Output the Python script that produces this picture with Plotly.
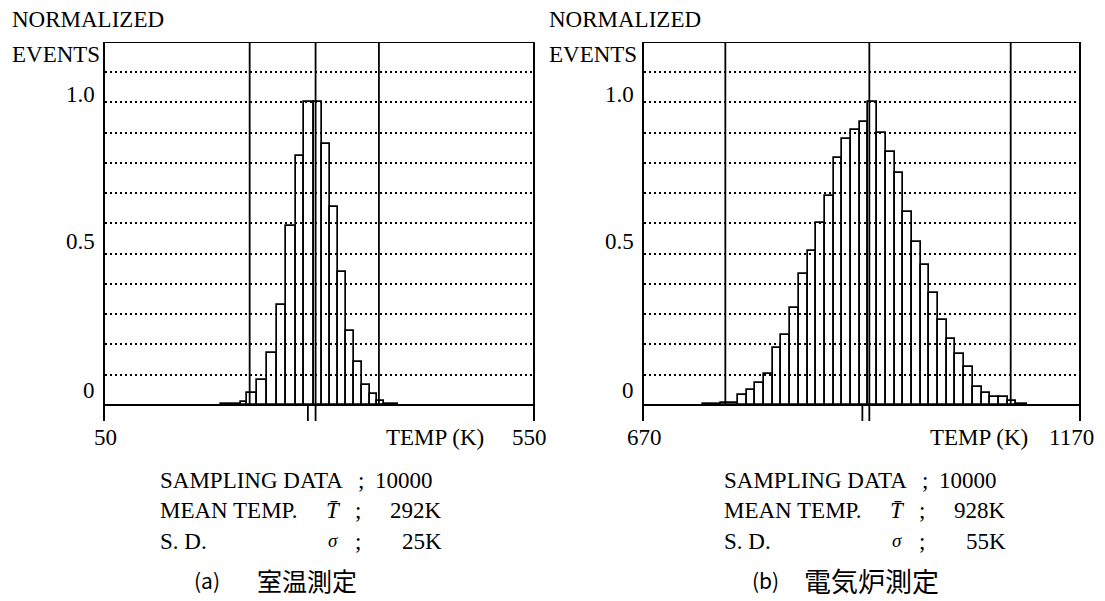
import plotly.graph_objects as go

W, H = 1105, 601
SERIF = "Liberation Serif"
CJK = "Noto Sans CJK JP"

# ---------------- data ----------------
left_bin_edges = [186, 209, 216, 227, 239.5, 251, 262, 273.5, 283, 294, 303, 313,
                  322.5, 331.5, 341, 350.5, 359.5, 367.5, 376, 392]
left_heights = [0.003, 0.009, 0.041, 0.084, 0.172, 0.331, 0.592, 0.822, 1.0, 1.0,
                0.864, 0.656, 0.441, 0.243, 0.143, 0.066, 0.036, 0.014, 0.004]

right_bin_edges = [738, 758, 778, 788, 798, 808, 818, 828, 838, 848, 858, 868, 878,
                   888, 898, 908, 918, 928, 938, 948, 958, 968, 978, 988, 998, 1008,
                   1018, 1028, 1038, 1048, 1058, 1068, 1078, 1088, 1098, 1110]
right_heights = [0.003, 0.006, 0.034, 0.05, 0.071, 0.104, 0.189, 0.232, 0.322, 0.433,
                 0.508, 0.6, 0.69, 0.818, 0.878, 0.908, 0.937, 1.0, 0.898, 0.837,
                 0.766, 0.637, 0.538, 0.463, 0.369, 0.282, 0.218, 0.169, 0.127, 0.06,
                 0.04, 0.028, 0.028, 0.012, 0.004]

left_range = [50, 550]
right_range = [670, 1170]
left_sigma_lines = [219, 296, 370]
right_sigma_lines = [763.5, 929, 1091.5]
left_mean_marks = [287, 296]
right_mean_marks = [921, 929]

sampling = ["10000", "10000"]
mean_temps = ["292K", "928K"]
sds = ["25K", "55K"]
captions = [("(a)", "室温測定"), ("(b)", "電気炉測定")]
y_tick_labels = ["1.0", "0.5", "0"]

# ---------------- figure ----------------
def px(x):
    return x / W


def py(y):
    return 1 - y / H


def bars(edges, heights, xa, ya):
    centers = [(a + b) / 2 for a, b in zip(edges[:-1], edges[1:])]
    widths = [b - a for a, b in zip(edges[:-1], edges[1:])]
    return go.Bar(x=centers, y=heights, width=widths, xaxis=xa, yaxis=ya,
                  marker=dict(color="rgba(0,0,0,0)", line=dict(color="black", width=1.7)),
                  showlegend=False, hoverinfo="skip")


fig = go.Figure()
fig.add_trace(bars(left_bin_edges, left_heights, "x", "y"))
fig.add_trace(bars(right_bin_edges, right_heights, "x2", "y2"))

Y_LO, Y_HI = -0.053, 1.2
ydom = [py(421), py(42)]
axis_common = dict(showticklabels=False, ticks="", zeroline=False)
fig.update_layout(
    width=W, height=H, margin=dict(l=0, r=0, t=0, b=0),
    paper_bgcolor="white", plot_bgcolor="white", bargap=0,
    xaxis=dict(domain=[px(105), px(533)], range=left_range, showgrid=False,
               showline=False, anchor="y", **axis_common),
    xaxis2=dict(domain=[px(644), px(1079)], range=right_range, showgrid=False,
                showline=False, anchor="y2", **axis_common),
    yaxis=dict(domain=ydom, range=[Y_LO, Y_HI], anchor="x", tick0=0, dtick=0.1,
               showgrid=True, gridcolor="black", gridwidth=1.8, griddash="2px,3px",
               showline=True, mirror=True, linecolor="black", linewidth=2,
               **axis_common),
    yaxis2=dict(domain=ydom, range=[Y_LO, Y_HI], anchor="x2", tick0=0, dtick=0.1,
                showgrid=True, gridcolor="black", gridwidth=1.8, griddash="2px,3px",
                showline=True, mirror=True, linecolor="black", linewidth=2,
                **axis_common),
)

shapes = []
for xr, yr, rng, sig, marks in [("x", "y", left_range, left_sigma_lines, left_mean_marks),
                                ("x2", "y2", right_range, right_sigma_lines, right_mean_marks)]:
    # top frame and baseline
    for yv in (Y_HI, 0):
        shapes.append(dict(type="line", xref=xr, yref=yr, x0=rng[0], x1=rng[1], y0=yv, y1=yv,
                           line=dict(color="black", width=2)))
    for xv in sig:
        shapes.append(dict(type="line", xref=xr, yref=yr, x0=xv, x1=xv, y0=0, y1=Y_HI,
                           line=dict(color="black", width=1.8)))
    for xv in marks:
        shapes.append(dict(type="line", xref=xr, yref=yr, x0=xv, x1=xv, y0=0, y1=Y_LO,
                           line=dict(color="black", width=1.8)))
fig.update_layout(shapes=shapes)


def ann(text, x, y, xanchor="left", size=23, family=SERIF):
    return dict(text=text, x=px(x), y=py(y), xref="paper", yref="paper",
                xanchor=xanchor, yanchor="middle", showarrow=False,
                font=dict(family=family, size=size, color="black"))


anns = []
for k, (x0, frame_l, frame_r, rng) in enumerate([(10, 105, 533, left_range),
                                                  (547, 644, 1079, right_range)]):
    anns.append(ann("NORMALIZED", x0, 20))
    anns.append(ann("EVENTS", x0, 54))
    for lab, yy in zip(y_tick_labels, [95, 242, 390]):
        anns.append(ann(lab, frame_l - 8, yy, xanchor="right"))
    anns.append(ann(str(rng[0]), frame_l, 437, xanchor="center"))
    anns.append(ann(str(rng[1]), frame_r - 4 - 4 * k, 437, xanchor="center"))
    anns.append(ann("TEMP (K)", frame_l + 330 + 5 * k, 437, xanchor="center"))

for k, bx in enumerate([158, 722]):
    anns.append(ann("SAMPLING DATA", bx, 480))
    anns.append(ann(";", bx + 203, 480, xanchor="center"))
    anns.append(ann(sampling[k], bx + 215, 480))
    anns.append(ann("MEAN TEMP.", bx, 510))
    anns.append(ann("<i>T\u0304</i>", bx + 175, 510, xanchor="center"))
    anns.append(ann(";", bx + 200, 510, xanchor="center"))
    anns.append(ann(mean_temps[k], bx + 286, 510, xanchor="right"))
    anns.append(ann("S. D.", bx, 541))
    anns.append(ann("<i>σ</i>", bx + 175, 540, xanchor="center", size=19))
    anns.append(ann(";", bx + 200, 541, xanchor="center"))
    anns.append(ann(sds[k], bx + 286, 541, xanchor="right"))

anns.append(ann(captions[0][0], 207, 580, xanchor="center", size=21, family=CJK))
anns.append(ann(captions[0][1], 255, 580, size=25, family=CJK))
anns.append(ann(captions[1][0], 765, 580, xanchor="center", size=21, family=CJK))
anns.append(ann(captions[1][1], 802, 580, size=27, family=CJK))
fig.update_layout(annotations=anns)

fig.write_html("out.html")
